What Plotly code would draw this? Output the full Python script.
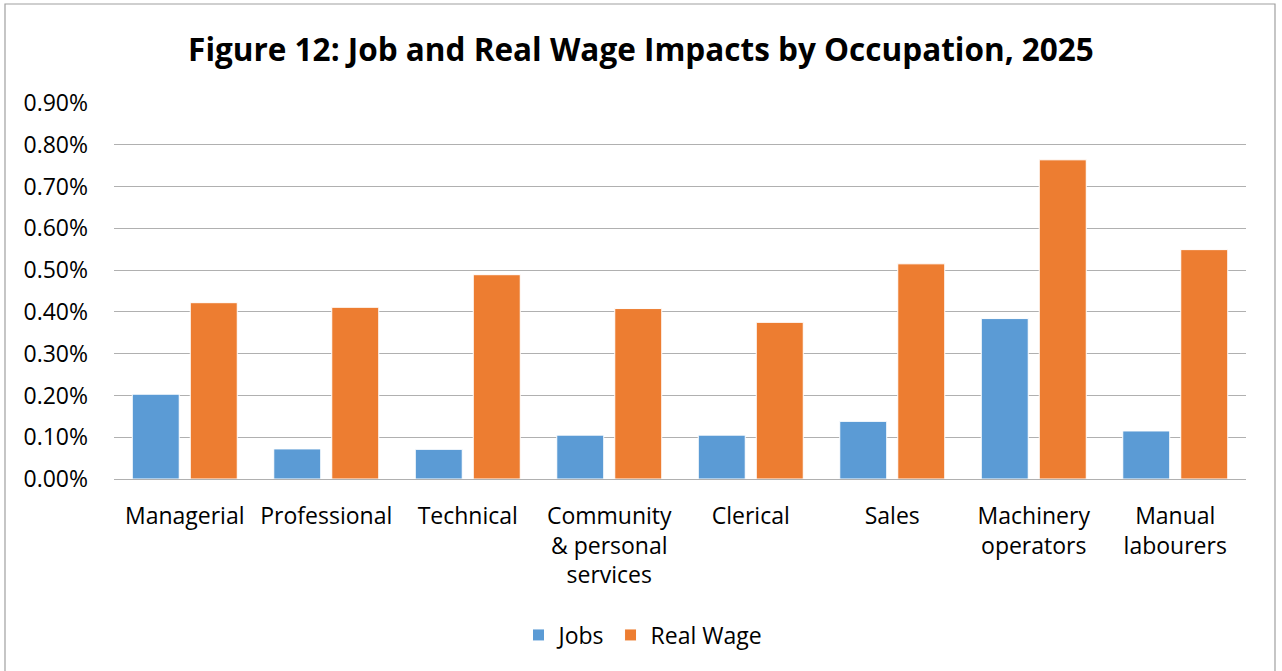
import plotly.graph_objects as go

categories = ["Managerial", "Professional", "Technical", "Community<br>& personal<br>services",
              "Clerical", "Sales", "Machinery<br>operators", "Manual<br>labourers"]
jobs = [0.00203, 0.00072, 0.00071, 0.00105, 0.00105, 0.00138, 0.00384, 0.00115]
real_wage = [0.00422, 0.00411, 0.00489, 0.00408, 0.00375, 0.00515, 0.00764, 0.00549]
y_ticks = [i / 1000 for i in range(10)]

W, H = 1282, 671
L, R, T, B = 114, 1246, 103, 479

font = "Open Sans, Lato, sans-serif"

fig = go.Figure()
fig.add_trace(go.Bar(name="Jobs", x=categories, y=jobs, marker=dict(color="#5B9BD5", line=dict(color="white", width=1))))
fig.add_trace(go.Bar(name="Real Wage", x=categories, y=real_wage, marker=dict(color="#ED7D31", line=dict(color="white", width=1))))

pw, ph = R - L, B - T
def px(x): return (x - L) / pw
def py(y): return (B - y) / ph

fig.add_shape(type="rect", xref="paper", yref="paper",
              x0=px(5), x1=px(1275), y0=py(675), y1=py(4),
              line=dict(color="#a0a0a0", width=1.2), fillcolor="rgba(0,0,0,0)", layer="below")

fig.update_layout(
    width=W, height=H,
    margin=dict(l=L, r=W - R, t=T, b=H - B, autoexpand=False),
    paper_bgcolor="white", plot_bgcolor="white",
    barmode="group", bargap=0.18, bargroupgap=0.19,
    font=dict(family=font, size=23, color="#000000"),
    title=dict(text="<b>Figure 12: Job and Real Wage Impacts by Occupation, 2025</b>",
               x=px(641), xref="paper", xanchor="center", y=1 - 50 / H, yanchor="middle",
               font=dict(family=font, size=31.5, color="#000000")),
    legend=dict(orientation="h", x=px(643), xanchor="center", y=py(635), yanchor="middle",
                font=dict(family=font, size=23), itemwidth=30, traceorder="normal"),
    showlegend=True,
)
fig.update_yaxes(range=[0, 0.009], tickvals=y_ticks, tickformat=".2%",
                 showgrid=True, gridcolor="#b0b0b0", gridwidth=1,
                 zeroline=False, showline=False, ticks="", ticklabelstandoff=25,
                 tickfont=dict(family=font, size=23))
fig.update_xaxes(showline=True, linecolor="#b0b0b0", linewidth=1, ticks="",
                 ticklabelstandoff=16, tickfont=dict(family=font, size=23), tickangle=0)

fig.write_html("out.html", config={"displayModeBar": False},
               post_script="document.body.style.margin='0';")
